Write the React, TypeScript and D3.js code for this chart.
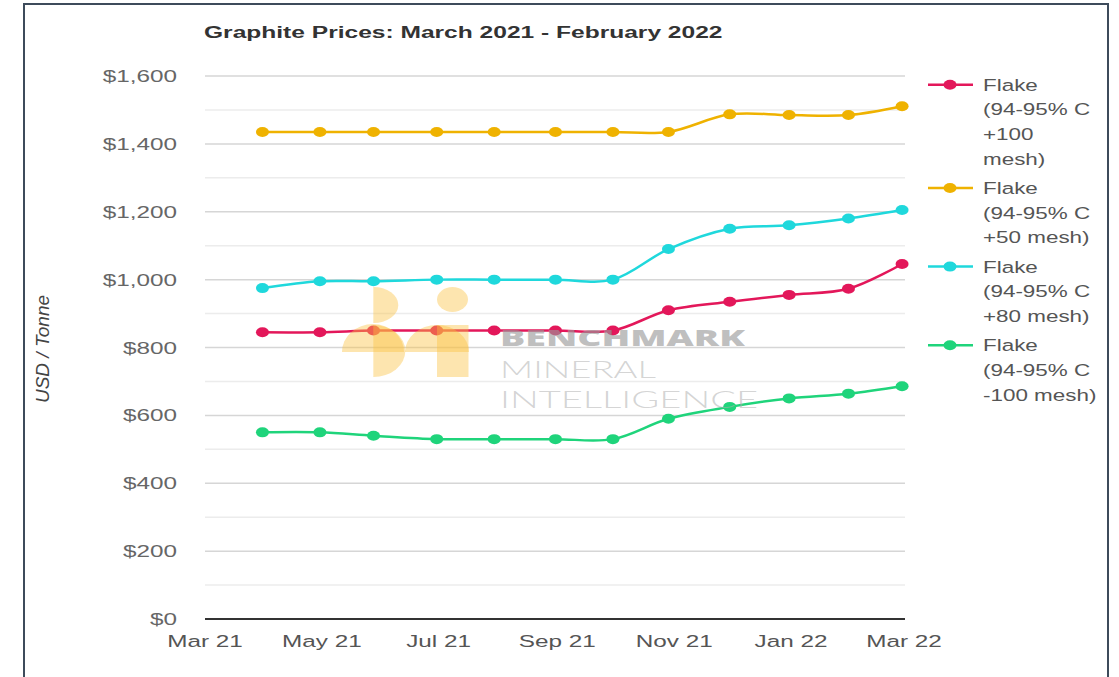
import React from "react";
import * as d3 from "d3";

const dates = ["2021-03-31","2021-04-30","2021-05-28","2021-06-30","2021-07-30","2021-08-31","2021-09-30","2021-10-29","2021-11-30","2021-12-31","2022-01-31","2022-02-28"];
const flakePlus100 = [845,845,850,850,850,850,850,910,935,955,973,1046];
const flakePlus50 = [1435,1435,1435,1435,1435,1435,1435,1435,1487,1485,1485,1511];
const flakePlus80 = [975,995,995,1000,1000,1000,1000,1090,1150,1160,1180,1205];
const flakeMinus100 = [550,550,540,530,530,530,530,590,625,650,664,686];

const seriesNames = [
  ["Flake", "(94-95% C", "+100", "mesh)"],
  ["Flake", "(94-95% C", "+50 mesh)"],
  ["Flake", "(94-95% C", "+80 mesh)"],
  ["Flake", "(94-95% C", "-100 mesh)"],
];
const seriesColors = ["#e3175a", "#efb200", "#1fd8dc", "#1fd47b"];
const seriesValues = [flakePlus100, flakePlus50, flakePlus80, flakeMinus100];

const xTickDates = ["2021-03-01","2021-05-01","2021-07-01","2021-09-01","2021-11-01","2022-01-01","2022-03-01"];
const xTickLabels = ["Mar 21","May 21","Jul 21","Sep 21","Nov 21","Jan 22","Mar 22"];
const yMajor = [0,200,400,600,800,1000,1200,1400,1600];
const yMinor = [100,300,500,700,900,1100,1300,1500];

const title = "Graphite Prices: March 2021 - February 2022";
const yTitle = "USD / Tonne";
const watermark = ["BENCHMARK", "MINERAL", "INTELLIGENCE"];

const FONT = "'Liberation Sans', Arial, sans-serif";

const SText = ({ x, y, sx = 1.43, anchor = "start", children, ...rest }: any) => (
  <text transform={`translate(${x},${y}) scale(${sx},1)`} textAnchor={anchor} fontFamily={FONT} {...rest}>
    {children}
  </text>
);

export default function App() {
  const W = 1119, H = 677;
  const parse = d3.utcParse("%Y-%m-%d");
  const x = d3.scaleUtc().domain([parse("2021-03-01")!, parse("2022-03-01")!]).range([205, 904]);
  const y = d3.scaleLinear().domain([0, 1600]).range([619, 76]);
  const pts = dates.map((d) => parse(d)!);
  const line = d3
    .line<number>()
    .x((_, i) => x(pts[i]))
    .y((v) => y(v))
    .curve(d3.curveCatmullRom.alpha(0.5));
  const fmt = d3.format("$,");

  // legend layout
  const lineH = 24.7;
  const legendStarts: number[] = [];
  let cur = 90.7;
  seriesNames.forEach((lines) => {
    legendStarts.push(cur);
    cur += lines.length * lineH + 4.5;
  });

  const logoFill = "#fbc040";
  const logoOp = 0.42;

  return (
    <div style={{ position: "absolute", left: 0, top: 0 }}>
      <svg width={W} height={H} style={{ display: "block", background: "#fff" }}>
        <rect x={0} y={0} width={W} height={H} fill="#fff" />
        <rect x={24} y={4} width={1084} height={H + 20} fill="none" stroke="#3d4b5b" strokeWidth={2} />

        {/* title */}
        <SText x={204} y={37.5} sx={1.445} fontSize={17} fontWeight="bold" fill="#333">
          {title}
        </SText>

        {/* grid */}
        {yMinor.map((v) => (
          <line key={"mi" + v} x1={205} x2={905} y1={y(v)} y2={y(v)} stroke="#ececec" strokeWidth={1.5} />
        ))}
        {yMajor.filter((v) => v > 0).map((v) => (
          <line key={"ma" + v} x1={205} x2={905} y1={y(v)} y2={y(v)} stroke="#d6d6d6" strokeWidth={1.5} />
        ))}
        <line x1={205} x2={905} y1={y(0)} y2={y(0)} stroke="#333" strokeWidth={2} />

        {/* y labels */}
        {yMajor.map((v) => (
          <SText key={"yl" + v} x={177} y={y(v) + 6} anchor="end" fontSize={17} fill="#666">
            {fmt(v)}
          </SText>
        ))}
        {/* x labels */}
        {xTickDates.map((d, i) => (
          <SText key={"xl" + d} x={x(parse(d)!)} y={647} anchor="middle" fontSize={17} fill="#555">
            {xTickLabels[i]}
          </SText>
        ))}

        {/* y title */}
        <text
          transform={`translate(49,349) rotate(-90)`}
          textAnchor="middle"
          fontFamily={FONT}
          fontStyle="italic"
          fontSize={19}
          fill="#444"
        >
          {yTitle}
        </text>

        {/* series */}
        {seriesValues.map((vals, si) => (
          <g key={"s" + si}>
            <path d={line(vals) || ""} fill="none" stroke={seriesColors[si]} strokeWidth={2.5} />
            {vals.map((v, i) => (
              <ellipse key={i} cx={x(pts[i])} cy={y(v)} rx={6.5} ry={5} fill={seriesColors[si]} />
            ))}
          </g>
        ))}

        {/* watermark logo */}
        <g fill={logoFill}>
          <path d="M373.3,287 A25,18 0 0 1 373.3,323 Z" fillOpacity={logoOp} />
          <path d="M342,352 A31,28 0 0 1 404,352 Z" fillOpacity={logoOp} />
          <path d="M373.3,325 A32,26 0 0 1 373.3,377 Z" fillOpacity={logoOp} />
          <ellipse cx={452.5} cy={299.5} rx={15.5} ry={12.5} fillOpacity={logoOp} />
          <path d="M405,352 A32,27 0 0 1 469,352 Z" fillOpacity={logoOp} />
          <rect x={437} y={325} width={31.5} height={52} fillOpacity={logoOp} />
        </g>
        {/* watermark text */}
        <text x={500} y={345.5} fontFamily="'Open Sans', Lato, sans-serif" fontWeight={800} fontSize={23} fill="#9a9a9a" fillOpacity={0.65} textLength={245} lengthAdjust="spacingAndGlyphs">
          {watermark[0]}
        </text>
        <text x={500} y={377.5} fontFamily="Lato, 'Open Sans', sans-serif" fontWeight={300} fontSize={24} fill="#b0b0b0" fillOpacity={0.55} textLength={156} lengthAdjust="spacingAndGlyphs">
          {watermark[1]}
        </text>
        <text x={500} y={407.5} fontFamily="Lato, 'Open Sans', sans-serif" fontWeight={300} fontSize={24} fill="#b0b0b0" fillOpacity={0.55} textLength={258} lengthAdjust="spacingAndGlyphs">
          {watermark[2]}
        </text>

        {/* legend */}
        {seriesNames.map((lines, si) => {
          const top = legendStarts[si];
          const my = top - 6;
          return (
            <g key={"lg" + si}>
              <line x1={928} x2={973} y1={my} y2={my} stroke={seriesColors[si]} strokeWidth={2.5} />
              <ellipse cx={950} cy={my} rx={6.5} ry={5} fill={seriesColors[si]} />
              {lines.map((t, li) => (
                <SText key={li} x={983} y={top + li * lineH} sx={1.32} fontSize={17} fill="#555">
                  {t}
                </SText>
              ))}
            </g>
          );
        })}
      </svg>
    </div>
  );
}
